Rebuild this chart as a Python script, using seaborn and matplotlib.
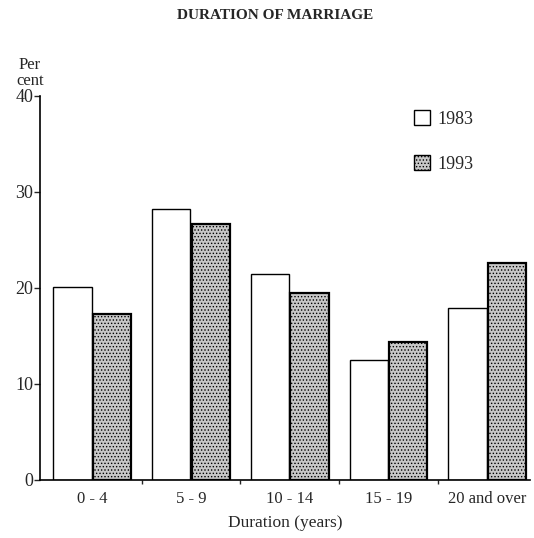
import matplotlib
matplotlib.use('Agg')
import matplotlib.pyplot as plt
import pandas as pd
import seaborn as sns
from matplotlib.patches import Patch

# Data
durations = ['0 - 4', '5 - 9', '10 - 14', '15 - 19', '20 and over']
pct_1983 = [20.1, 28.2, 21.4, 12.5, 17.9]
pct_1993 = [17.3, 26.6, 19.5, 14.4, 22.6]
years = ['1983', '1993']

df = pd.DataFrame({
  'duration': durations * 2,
  'year': [years[0]] * len(durations) + [years[1]] * len(durations),
  'pct': pct_1983 + pct_1993,
})

sns.set_style('white')
plt.rcParams['font.family'] = ['Liberation Serif', 'DejaVu Serif']
plt.rcParams['hatch.linewidth'] = 0.6

fig = plt.figure(figsize=(5.34, 5.38), dpi=100)
ax = fig.add_axes([0.075, 0.108, 0.918, 0.714])

colors = {'1983': 'white', '1993': '#c8c8c8'}
sns.barplot(data=df, x='duration', y='pct', hue='year', order=durations,
            hue_order=years, palette=colors, edgecolor='black', linewidth=1.0,
            width=0.8, gap=0.03, legend=False, ax=ax)

# stipple the 1993 bars
for bar in ax.containers[1]:
  bar.set_hatch('.....')
  bar.set_linewidth(1.6)

ax.set_xlim(-0.527, 4.435)
ax.set_ylim(0, 40)
ax.set_yticks([0, 10, 20, 30, 40])
ax.set_xticks(range(len(durations)))
ax.set_xticklabels(durations, fontsize=12)
ax.set_xticks([0.5, 1.5, 2.5, 3.5], minor=True)
ax.tick_params(axis='x', which='major', length=0, pad=8)
ax.tick_params(axis='x', which='minor', length=3, width=1, direction='out', bottom=True)
ax.tick_params(axis='y', length=4, width=1, direction='out', left=True,
               labelsize=13, pad=1)

sns.despine(ax=ax)
for s in ['left', 'bottom']:
  ax.spines[s].set_color('black')
  ax.spines[s].set_linewidth(1.2)

ax.set_xlabel('Duration (years)', fontsize=12.5, labelpad=6)
ax.set_ylabel('')

fig.text(0.515, 0.972, 'DURATION OF MARRIAGE', ha='center', va='center',
         fontsize=11, fontweight='bold')
fig.text(0.056, 0.864, 'Per\ncent', ha='center', va='center', fontsize=12,
         linespacing=1.0)

handles = [
  Patch(facecolor='white', edgecolor='black', label='1983'),
  Patch(facecolor='#c8c8c8', edgecolor='black', hatch='.....', label='1993'),
]
ax.legend(handles=handles, loc='upper left', bbox_to_anchor=(0.73, 1.005),
          frameon=False, fontsize=13, handlelength=0.9, handleheight=0.9,
          labelspacing=1.5, handletextpad=0.4)

fig.savefig('out.png', dpi=100)
